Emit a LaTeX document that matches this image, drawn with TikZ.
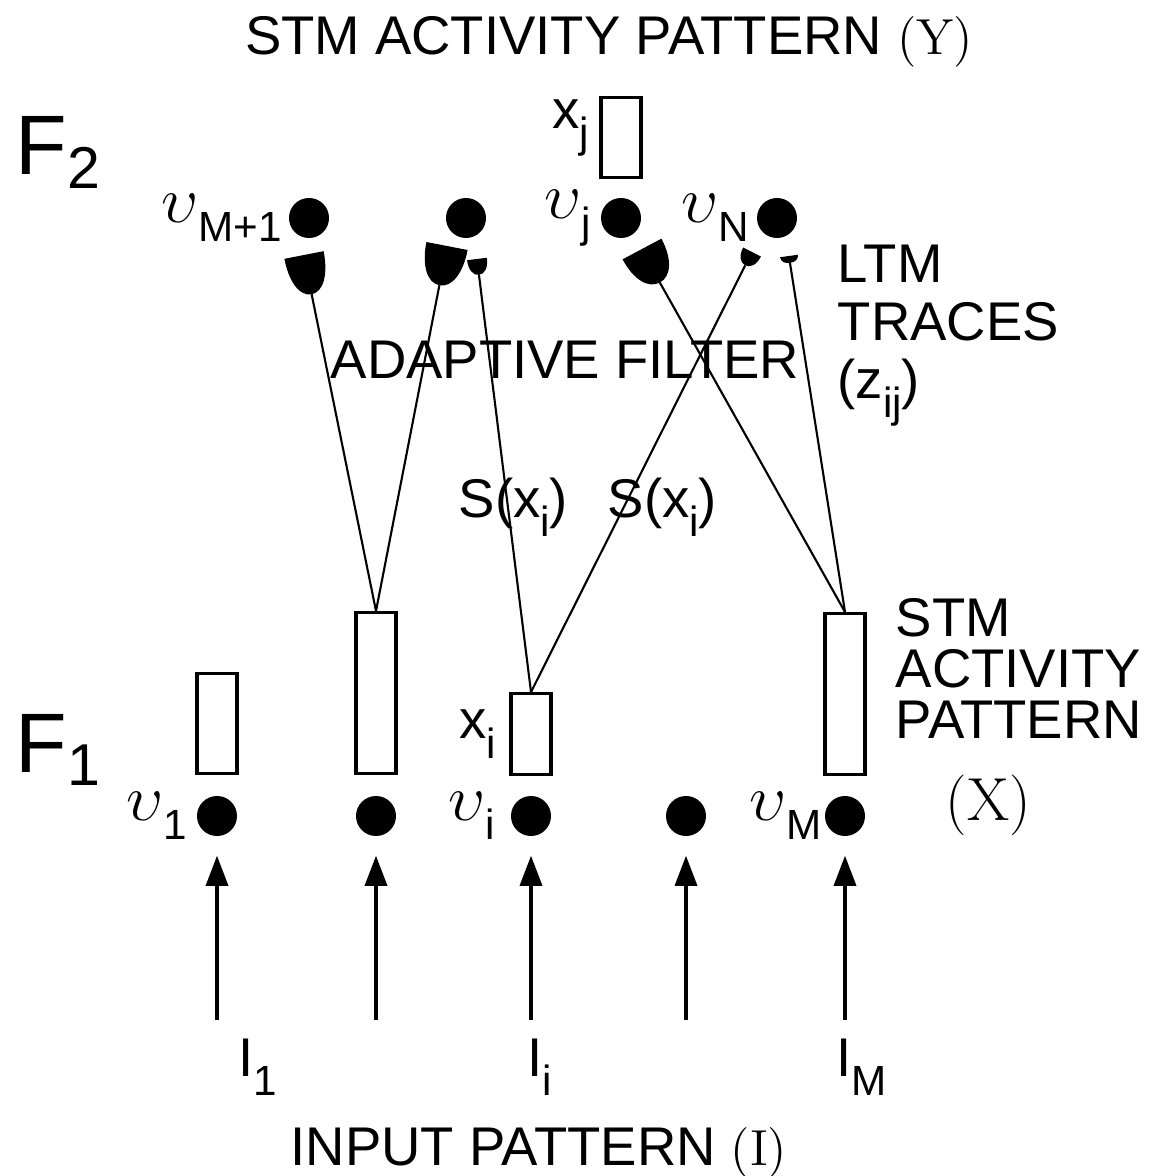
\documentclass[tikz,border=0pt]{standalone}
\usepackage[no-math]{fontspec}
\setmainfont{Liberation Sans}
\usepackage{amsmath}
\usepackage{graphicx}
\usetikzlibrary{positioning,arrows.meta}
\tikzstyle{arrow} = [-{Triangle[length=0.3cm,width=0.22cm]},line width=0.9pt]
\tikzstyle{cell} = [circle,fill=black,inner sep=0,minimum size=0.4cm]
\tikzstyle{bar} = [draw,line width=0.9pt,inner sep=0,minimum width=0.4cm]
\tikzstyle{lbl} = [inner sep=0,font=\fontsize{15.5}{18}\selectfont]
\tikzstyle{big} = [inner sep=0,font=\fontsize{24}{28}\selectfont]
\tikzstyle{wire} = [line width=0.6pt]
% synaptic knob: top centre, width, height, turn, name of its tip
\newcommand{\knob}[6]{\fill[shift={(#1,#2)},rotate=#5] ({-#3/2},0) -- ({#3/2},0)
  .. controls ({#3/2},{0.6*#4}) and ({0.3*#3},#4) .. (0,#4) coordinate (#6)
  .. controls ({-0.3*#3},#4) and ({-#3/2},{0.6*#4}) .. cycle;}
\newcommand{\lowsub}[1]{\raisebox{-5.5pt}{\fontsize{12}{14}\selectfont #1}}
\newcommand{\ups}{\scalebox{1.3}{$\upsilon$}}

\begin{document}
\begin{tikzpicture}[x=0.01cm,y=-0.01cm]
        \useasboundingbox (0,0) rectangle (1150,1176);
        % F2
        \node[cell] at (309,218) (vm1) {};
        \node[cell] at (466,218) (vx) {};
        \node[cell] at (621,218) (vj) {};
        \node[cell] at (777,218) (vn) {};
        \node[bar, minimum height=0.8cm, above=0.18cm of vj] (bj) {};

        % F1
        \node[cell] at (217,816) (v1) {};
        \node[cell] at (376,816) (v2) {};
        \node[cell] at (531,816) (vi) {};
        \node[cell] at (686,816) (v4) {};
        \node[cell] at (845,816) (vm) {};
        \node[bar, minimum height=1cm, above=0.2cm of v1] (b1) {};
        \node[bar, minimum height=1.61cm, above=0.2cm of v2] (b2) {};
        \node[bar, minimum height=0.81cm, above=0.19cm of vi] (b3) {};
        \node[bar, minimum height=1.61cm, above=0.19cm of vm] (b5) {};

        % LTM traces
        \knob{304}{255}{40}{40}{11}{k1}
        \knob{447}{246}{42}{40}{-11}{k2}
        \knob{477}{259}{20}{16}{7}{k3}
        \knob{642}{249}{44}{38}{28}{k4}
        \knob{752}{252}{20}{15}{-27}{k5}
        \knob{789}{256}{18}{7}{8}{k6}
        \draw[wire] (k1) -- (b2.north);
        \draw[wire] (k2) -- (b2.north);
        \draw[wire] (k3) -- (b3.north);
        \draw[wire] (k5) -- (b3.north);
        \draw[wire] (k4) -- (b5.north);
        \draw[wire] (k6) -- (b5.north);

        % inputs
        \foreach \n/\x in {v1/217,v2/376,vi/531,v4/686,vm/845} {
            \coordinate (in\n) at (\x,1020);
            \draw[arrow, shorten >=0.19cm] (in\n) -- (\n);
        }

        \node[lbl, left=0.06cm of vm1] {\ups\lowsub{M+1}};
        \node[lbl, left=0.09cm of vj] {\ups\lowsub{j}};
        \node[lbl, left=0.07cm of vn] {\ups\lowsub{N}};
        \node[lbl, left=0.09cm of v1] {\ups\lowsub{1}};
        \node[lbl, left=0.15cm of vi] {\ups\lowsub{i}};
        \node[lbl, left=0.02cm of vm] {\ups\lowsub{M}};
        \node[lbl, left=0.13cm of b3] {x\lowsub{i}};
        \node[lbl, left=0.1cm of bj, yshift=0.1cm] {x\lowsub{j}};

        \node[lbl, anchor=base] at (609,55) (ytitle) {STM ACTIVITY PATTERN $(\mathrm{Y})$};
        \node[big, anchor=base west] at (15,175) (f2) {$\text{F}_{\text{2}}$};
        \node[big, anchor=base west] at (15,772) (f1) {$\text{F}_{\text{1}}$};
        \node[lbl, anchor=base west] at (330,378) (filt) {ADAPTIVE FILTER};
        \node[lbl, anchor=base west] at (458,517) (s1) {S(x\lowsub{i})};
        \node[lbl, anchor=base west] at (607,517) (s2) {S(x\lowsub{i})};
        \node[lbl, anchor=base west] at (837,282) (ltm) {LTM};
        \node[lbl, anchor=base west] at (837,340) (trc) {TRACES};
        \node[lbl, anchor=base west] at (837,398) (zij) {(z\lowsub{ij})};
        \node[lbl, anchor=base west] at (895,636) (stm) {STM};
        \node[lbl, anchor=base west] at (895,687) (act) {ACTIVITY};
        \node[lbl, anchor=base west] at (895,738) (pat) {PATTERN};
        \node[lbl, anchor=base west] at (945,820) (xx) {\fontsize{17}{20}\selectfont$(\mathrm{X})$};
        \node[lbl, anchor=base west] at (238,1076) (i1) {I\lowsub{1}};
        \node[lbl, anchor=base west] at (527,1076) (ii) {I\lowsub{i}};
        \node[lbl, anchor=base west] at (836,1076) (im) {I\lowsub{M}};
        \node[lbl, anchor=base] at (539,1165) (inp) {INPUT PATTERN $(\mathrm{I})$};
    \end{tikzpicture}
\end{document}
